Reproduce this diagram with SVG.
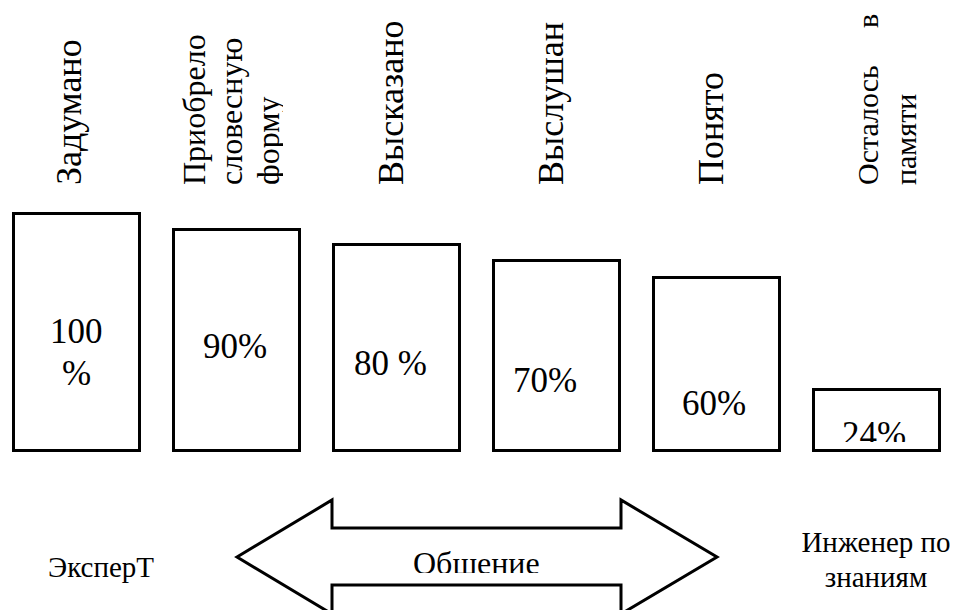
<svg xmlns="http://www.w3.org/2000/svg" width="955" height="610" viewBox="0 0 955 610">
  <style>
    text { font-family: "Liberation Serif", "Times New Roman", serif; fill: #000; }
    .box { fill: #fff; stroke: #000; stroke-width: 3; }
    .big { font-size: 36px; }
    .mid { font-size: 32px; }
    .sm { font-size: 30px; }
    .pct { font-size: 35px; }
    .lbl { font-size: 29px; }
    .arrow { fill: #fff; stroke: #000; stroke-width: 3; stroke-linejoin: miter; }
  </style>
  <defs>
    <clipPath id="clip-form"><rect x="170" y="0" width="113" height="200"/></clipPath>
    <clipPath id="clip-24"><rect x="815" y="390" width="124" height="52"/></clipPath>
    <clipPath id="clip-talk"><rect x="380" y="530" width="200" height="43"/></clipPath>
  </defs>
  <rect width="955" height="610" fill="#fff"/>

  <!-- stage 1 -->
  <g id="stage-conceived">
    <text class="big" transform="translate(81,185) rotate(-90)">Задумано</text>
    <rect class="box" x="13.5" y="213.5" width="126" height="237"/>
    <text class="pct" x="50" y="343">100</text>
    <text class="pct" x="62" y="385">%</text>
  </g>

  <!-- stage 2 -->
  <g id="stage-worded">
    <g clip-path="url(#clip-form)">
      <text class="mid" transform="translate(205,185) rotate(-90)">Приобрело</text>
      <text class="mid" transform="translate(242,185) rotate(-90)">словесную</text>
      <text class="mid" transform="translate(279,185) rotate(-90)">форму</text>
    </g>
    <rect class="box" x="173.5" y="229.5" width="126" height="221"/>
    <text class="pct" x="203" y="358">90%</text>
  </g>

  <!-- stage 3 -->
  <g id="stage-spoken">
    <text class="big" transform="translate(403,185) rotate(-90)">Высказано</text>
    <rect class="box" x="333.5" y="244.5" width="126" height="206"/>
    <text class="pct" x="354" y="375">80 %</text>
  </g>

  <!-- stage 4 -->
  <g id="stage-heard">
    <text class="big" transform="translate(563,185) rotate(-90)">Выслушан</text>
    <rect class="box" x="493.5" y="260.5" width="126" height="190"/>
    <text class="pct" x="513" y="392">70%</text>
  </g>

  <!-- stage 5 -->
  <g id="stage-understood">
    <text class="big" transform="translate(723,185) rotate(-90)">Понято</text>
    <rect class="box" x="653.5" y="277.5" width="126" height="173"/>
    <text class="pct" x="682" y="415">60%</text>
  </g>

  <!-- stage 6 -->
  <g id="stage-remembered">
    <text class="sm" transform="translate(878,185) rotate(-90)">Осталось<tspan x="157">в</tspan></text>
    <text class="sm" transform="translate(916,185) rotate(-90)">памяти</text>
    <rect class="box" x="813.5" y="389.5" width="126" height="61"/>
    <g clip-path="url(#clip-24)">
      <text class="pct" x="842" y="446">24%</text>
    </g>
  </g>

  <!-- participants -->
  <g id="expert">
    <text class="lbl" x="48" y="577">ЭксперТ</text>
  </g>
  <g id="engineer">
    <text class="lbl" x="876" y="552" text-anchor="middle">Инженер по</text>
    <text class="lbl" x="876" y="587" text-anchor="middle">знаниям</text>
  </g>

  <!-- two-way communication arrow -->
  <g id="connectors">
    <polygon class="arrow" points="237,557 332,500 332,528 621,528 621,500 717,557 621,614 621,585 332,585 332,614"/>
    <g clip-path="url(#clip-talk)">
      <text class="mid" x="413" y="574">Общение</text>
    </g>
  </g>
</svg>
